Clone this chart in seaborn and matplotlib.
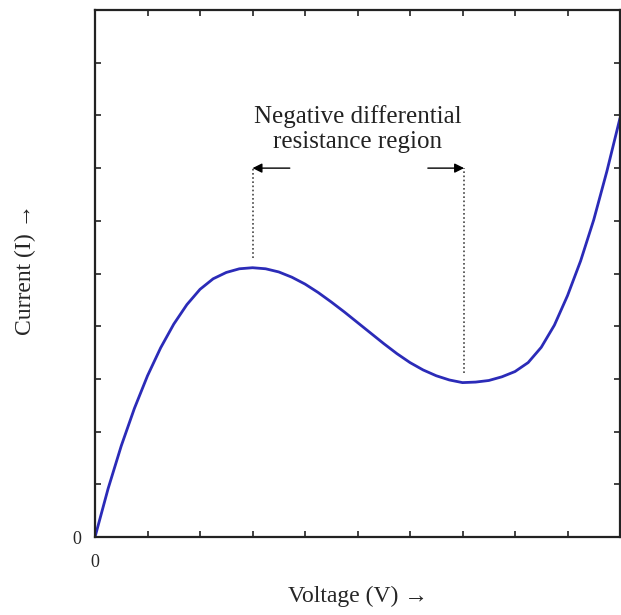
import numpy as np
import pandas as pd
import matplotlib
matplotlib.use("Agg")
import matplotlib.pyplot as plt
import seaborn as sns


# I-V curve (axes scaled 0..10 in both directions)
voltage = [0.0, 0.25, 0.5, 0.75, 1.0, 1.25, 1.5, 1.75, 2.0, 2.25,
           2.5, 2.75, 3.0, 3.25, 3.5, 3.75, 4.0, 4.25, 4.5, 4.75,
           5.0, 5.25, 5.5, 5.75, 6.0, 6.25, 6.5, 6.75, 7.0, 7.25,
           7.5, 7.75, 8.0, 8.25, 8.5, 8.75, 9.0, 9.25, 9.5, 9.75, 10.0]
current = [0.0, 0.92, 1.73, 2.44, 3.06, 3.59, 4.04, 4.41, 4.70, 4.90,
           5.02, 5.09, 5.11, 5.09, 5.03, 4.93, 4.80, 4.64, 4.46, 4.27,
           4.07, 3.87, 3.67, 3.48, 3.31, 3.17, 3.06, 2.98, 2.93, 2.94,
           2.97, 3.04, 3.14, 3.31, 3.60, 4.02, 4.58, 5.24, 6.02, 6.94, 7.95]

# peak / valley voltages that bound the NDR region
peak_v = 3.0
valley_v = 7.03
marker_top = 7.0
peak_line_end = 5.3
valley_line_end = 3.11

annotation = "Negative differential\nresistance region"
x_label = "Voltage (V) \u2192"
y_label = "Current (I) \u2192"

df = pd.DataFrame({"V": voltage, "I": current})

sns.set_style("ticks")
plt.rcParams["font.family"] = ["Liberation Serif", "DejaVu Serif"]

fig = plt.figure(figsize=(6.21, 6.15), dpi=100)
ax = fig.add_axes([0.153, 0.1268, 0.8454, 0.8569])

sns.lineplot(data=df, x="V", y="I", ax=ax, color="#2b2bb8", linewidth=2.0)

# dotted markers at peak and valley
ax.plot([peak_v, peak_v], [peak_line_end, marker_top],
        linestyle=(0, (1, 1.5)), color="#444444", linewidth=1.2)
ax.plot([valley_v, valley_v], [valley_line_end, marker_top],
        linestyle=(0, (1, 1.5)), color="#444444", linewidth=1.2)

# arrows pointing outward
ax.annotate("", xy=(peak_v, marker_top), xytext=(3.71, marker_top),
            arrowprops=dict(arrowstyle="-|>", color="black", lw=1.0,
                            mutation_scale=14, shrinkA=0, shrinkB=0))
ax.annotate("", xy=(valley_v, marker_top), xytext=(6.34, marker_top),
            arrowprops=dict(arrowstyle="-|>", color="black", lw=1.0,
                            mutation_scale=14, shrinkA=0, shrinkB=0))

ax.text(5.0, 7.74, annotation, ha="center", va="center",
        fontsize=18, linespacing=1.2, color="#222222")

ax.set_xlim(0, 10)
ax.set_ylim(0, 10)
ax.set_xticks(range(11))
ax.set_yticks(range(11))
ax.set_xticklabels(["0"] + [""] * 10)
ax.set_yticklabels(["0"] + [""] * 10)
ax.tick_params(direction="in", top=True, right=True, length=4, width=1.2,
               labelsize=13, color="#222222")
ax.tick_params(axis="x", pad=12)
ax.tick_params(axis="y", pad=10)

for side in ["left", "right", "top", "bottom"]:
    ax.spines[side].set_visible(True)
    ax.spines[side].set_linewidth(1.6)
    ax.spines[side].set_color("#222222")

ax.set_xlabel(x_label, fontsize=17)
ax.set_ylabel(y_label, fontsize=17)
ax.xaxis.set_label_coords(0.5, -0.093)
ax.yaxis.set_label_coords(-0.112, 0.507)

fig.savefig("out.png", dpi=100)
